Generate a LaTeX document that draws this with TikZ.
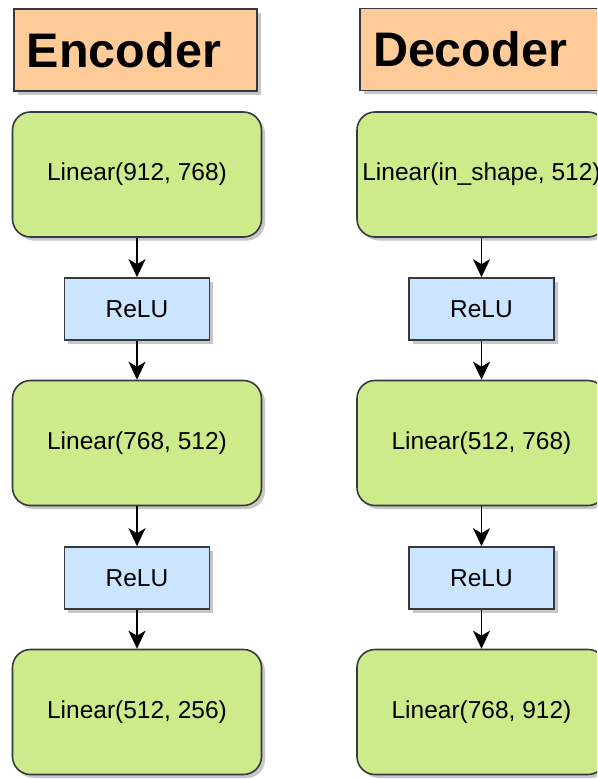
\documentclass[tikz,border=0pt]{standalone}
\usepackage{fontspec}
\setmainfont{Liberation Sans}
\usetikzlibrary{arrows.meta,shadows}
\definecolor{peach}{HTML}{FFCC99}
\definecolor{lgreen}{HTML}{CDEB8B}
\definecolor{lblue}{HTML}{CCE5FF}
\definecolor{edge}{HTML}{36393D}
\tikzset{
  shade box/.style={drop shadow={shadow xshift=3.5pt,shadow yshift=-3.5pt,fill=black!22,opacity=1}},
  titlebox/.style={rectangle,draw=edge,line width=1.6pt,fill=peach,shade box,
    minimum width=243pt,minimum height=82pt,inner xsep=13pt,text width=217pt,align=left,
    font=\fontsize{48.5}{56}\selectfont\bfseries},
  linbox/.style={rectangle,rounded corners=18pt,draw=edge,line width=1.6pt,fill=lgreen,shade box,
    minimum width=249pt,minimum height=125pt,inner sep=0pt,font=\fontsize{24.5}{29}\selectfont},
  relubox/.style={rectangle,draw=edge,line width=1.6pt,fill=lblue,shade box,
    minimum width=145pt,minimum height=62pt,inner sep=0pt,font=\fontsize{24.5}{29}\selectfont},
  conn/.style={line width=1.8pt,-{Stealth[length=18pt,width=17pt,inset=5pt]}}
}
\begin{document}
\begin{tikzpicture}[x=1pt,y=-1pt]
\useasboundingbox (0,0) rectangle (597,779);
\clip (0,0) rectangle (597,779);
\fill[white] (0,0) rectangle (597,779);
% Encoder
\node[titlebox] (enct) at (135.5,50) {Encoder};
\node[linbox] (e1) at (137,174.5) {Linear(912, 768)};
\node[relubox] (er1) at (137,309) {ReLU};
\node[linbox] (e2) at (137,443) {Linear(768, 512)};
\node[relubox] (er2) at (137,578) {ReLU};
\node[linbox] (e3) at (137,712) {Linear(512, 256)};
\draw[conn] (e1.south) -- (er1.north);
\draw[conn] (er1.south) -- (e2.north);
\draw[conn] (e2.south) -- (er2.north);
\draw[conn] (er2.south) -- (e3.north);
% Decoder
\node[titlebox] (dect) at (481.5,49.5) {Decoder};
\node[linbox] (d1) at (481.5,174.5) {Linear(in\_shape, 512)};
\node[relubox] (dr1) at (481.5,309) {ReLU};
\node[linbox] (d2) at (481.5,443) {Linear(512, 768)};
\node[relubox] (dr2) at (481.5,578) {ReLU};
\node[linbox] (d3) at (481.5,712) {Linear(768, 912)};
\draw[conn] (d1.south) -- (dr1.north);
\draw[conn] (dr1.south) -- (d2.north);
\draw[conn] (d2.south) -- (dr2.north);
\draw[conn] (dr2.south) -- (d3.north);
\end{tikzpicture}
\end{document}
